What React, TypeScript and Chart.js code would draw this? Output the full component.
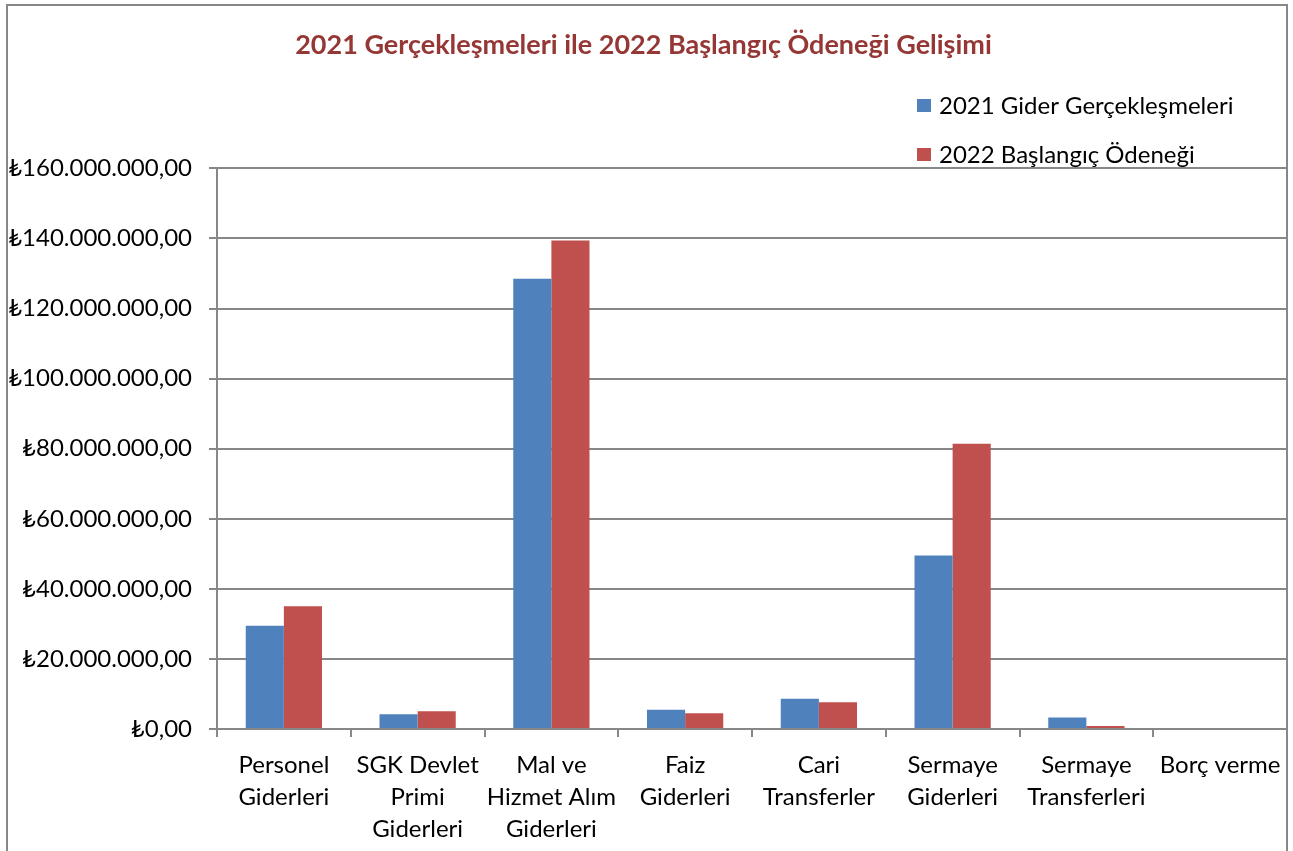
import React, { useEffect, useRef } from "react";
import { Chart, registerables } from "chart.js";

Chart.register(...registerables);

const categories: string[][] = [
  ["Personel", "Giderleri"],
  ["SGK Devlet", "Primi", "Giderleri"],
  ["Mal ve", "Hizmet Alım", "Giderleri"],
  ["Faiz", "Giderleri"],
  ["Cari", "Transferler"],
  ["Sermaye", "Giderleri"],
  ["Sermaye", "Transferleri"],
  ["Borç verme"],
];

const seriesNames = ["2021 Gider Gerçekleşmeleri", "2022 Başlangıç Ödeneği"];

const gider2021 = [29.5e6, 4.2e6, 128.5e6, 5.5e6, 8.6e6, 49.5e6, 3.3e6, 0];
const odenek2022 = [35.0e6, 5.1e6, 139.4e6, 4.5e6, 7.6e6, 81.4e6, 0.85e6, 0];

const yMin = 0;
const yMax = 160e6;
const yStep = 20e6;

const titleText = "2021 Gerçekleşmeleri ile 2022 Başlangıç Ödeneği Gelişimi";

const FONT = "Lato, 'Open Sans', sans-serif";
const GRID = "#878787";

function formatTL(v: number): string {
  const neg = v < 0;
  const abs = Math.abs(v);
  const intPart = Math.floor(abs);
  const frac = Math.round((abs - intPart) * 100);
  const s = String(intPart).replace(/\B(?=(\d{3})+(?!\d))/g, ".");
  return (neg ? "-" : "") + "₺" + s + "," + String(frac).padStart(2, "0");
}

const framePlugin = {
  id: "frame",
  beforeDraw(chart: any) {
    const ctx = chart.ctx;
    ctx.save();
    ctx.fillStyle = "#ffffff";
    ctx.fillRect(0, 0, chart.width, chart.height);
    ctx.restore();
  },
  afterDraw(chart: any) {
    const ctx = chart.ctx;
    ctx.save();
    ctx.strokeStyle = GRID;
    ctx.lineWidth = 2;
    ctx.strokeRect(7, 5, 1280, 900);
    ctx.restore();
  },
};

const legendPlugin = {
  id: "sideLegend",
  afterDraw(chart: any) {
    const ctx = chart.ctx;
    ctx.save();
    const x0 = 917;
    const ys = [106, 155];
    chart.data.datasets.forEach((ds: any, i: number) => {
      const y = ys[i];
      ctx.fillStyle = ds.backgroundColor;
      ctx.fillRect(x0, y - 7, 14, 13);
      ctx.fillStyle = "#000000";
      ctx.font = `24px ${FONT}`;
      ctx.textBaseline = "middle";
      ctx.textAlign = "left";
      ctx.fillText(ds.label, x0 + 22, y);
    });
    ctx.restore();
  },
};

export default function App() {
  const ref = useRef<HTMLCanvasElement | null>(null);

  useEffect(() => {
    if (!ref.current) return;
    const chart = new Chart(ref.current, {
      type: "bar",
      data: {
        labels: categories,
        datasets: [
          {
            label: seriesNames[0],
            data: gider2021,
            backgroundColor: "#4F81BD",
            categoryPercentage: 0.57,
            barPercentage: 1.0,
          },
          {
            label: seriesNames[1],
            data: odenek2022,
            backgroundColor: "#C0504D",
            categoryPercentage: 0.57,
            barPercentage: 1.0,
          },
        ],
      },
      options: {
        responsive: false,
        animation: false,
        devicePixelRatio: 1,
        layout: { padding: { left: 0, right: 6, top: 0, bottom: 0 } },
        plugins: {
          legend: { display: false },
          tooltip: { enabled: false },
          title: {
            display: true,
            text: titleText,
            color: "#953735",
            font: { family: FONT, size: 27, weight: "bold" },
            padding: { top: 29, bottom: 107 },
          },
        },
        scales: {
          x: {
            grid: {
              display: true,
              drawOnChartArea: false,
              drawTicks: true,
              tickLength: 8,
              color: GRID,
              lineWidth: 2,
              offset: true,
            },
            border: { display: true, color: GRID, width: 2 },
            ticks: {
              color: "#000000",
              font: { family: FONT, size: 24, lineHeight: 1.3333 },
              padding: 12,
              maxRotation: 0,
              minRotation: 0,
              autoSkip: false,
            },
            afterFit(scale: any) {
              scale.height = 122;
            },
          },
          y: {
            min: yMin,
            max: yMax,
            ticks: {
              stepSize: yStep,
              color: "#000000",
              font: { family: FONT, size: 24 },
              padding: 17,
              callback: (v: any) => formatTL(Number(v)),
            },
            grid: {
              color: GRID,
              lineWidth: 2,
              tickLength: 8,
              drawTicks: true,
            },
            border: { display: true, color: GRID, width: 2 },
            afterFit(scale: any) {
              scale.width = 217;
            },
          },
        },
      },
      plugins: [framePlugin, legendPlugin],
    } as any);
    return () => chart.destroy();
  }, []);

  return (
    <div style={{ position: "absolute", left: 0, top: 0, width: 1293, height: 851 }}>
      <canvas ref={ref} width={1293} height={851} style={{ display: "block" }} />
    </div>
  );
}
